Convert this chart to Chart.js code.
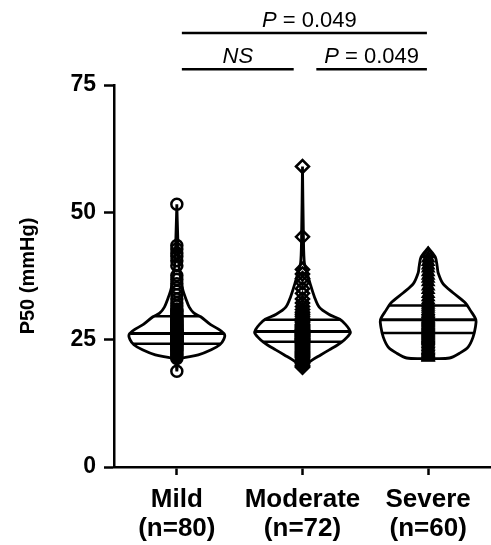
<!DOCTYPE html>
<html>
<head>
<meta charset="utf-8">
<script src="https://cdn.jsdelivr.net/npm/chart.js@4"></script>
<style>
  html, body { margin: 0; padding: 0; background: #fff; }
  #wrap { width: 491px; height: 545px; }
</style>
</head>
<body>
<div id="wrap"><canvas id="myChart" width="491" height="545"></canvas></div>
<script>
const groups = ['Mild', 'Moderate', 'Severe'];
const groupSizes = ['(n=80)', '(n=72)', '(n=60)'];
const yTicks = [0, 25, 50, 75];

// individual P50 values (mmHg)
const mildValues = [
    51.6, 43.5, 42.8, 42.0, 41.4, 40.5, 39.5, 37.6, 36.8, 36.0, 35.2, 34.5, 33.8, 33.0,
    32.2, 31.6, 31.0, 30.8, 30.6, 30.2, 29.9, 29.6, 29.3, 29.0, 28.8, 28.6, 28.4, 28.2, 28.0, 27.9,
    27.8, 27.6, 27.5, 27.3, 27.2, 27.0, 26.9, 26.9, 26.8, 26.7, 26.6, 26.5, 26.4, 26.3, 26.2, 26.1,
    26.0, 25.9, 25.8, 25.7, 25.7, 25.6, 25.5, 25.4, 25.3, 25.2, 25.1, 25.0, 24.9, 24.8, 24.7, 24.6,
    24.6, 24.5, 24.4, 24.3, 24.2, 24.0, 23.8, 23.6, 23.4, 23.2, 23.0, 22.8, 22.5, 22.2, 21.9, 21.6,
    21.3, 18.8
];
const moderateValues = [
    59.0, 45.2, 38.8, 37.9, 37.0, 36.2, 35.0, 34.1, 33.0, 32.2, 31.5, 30.9, 30.4, 30.0, 29.6, 29.2,
    28.9, 28.6, 28.3, 28.0, 27.8, 27.6, 27.4, 27.2, 27.0, 26.9, 26.8, 26.7, 26.6, 26.5, 26.4, 26.3,
    26.2, 26.1, 26.0, 25.9, 25.8, 25.7, 25.6, 25.5, 25.4, 25.3, 25.2, 25.1, 25.0, 24.9, 24.8, 24.7,
    24.6, 24.5, 24.3, 24.1, 23.9, 23.7, 23.5, 23.3, 23.1, 22.9, 22.7, 22.5, 22.3, 22.1, 21.9, 21.7,
    21.5, 21.2, 20.9, 20.6, 20.3, 20.0, 19.8, 19.6
];
const severeValues = [
    41.8, 41.0, 40.3, 39.6, 39.0, 38.3, 37.6, 37.0, 36.3, 35.5, 34.8, 34.0, 33.4, 32.8, 32.3, 31.9,
    31.5, 31.1, 30.7, 30.4, 30.1, 29.8, 29.5, 29.2, 29.0, 28.8, 28.6, 28.4, 28.2, 28.0, 27.8, 27.6,
    27.4, 27.2, 27.0, 26.8, 26.6, 26.4, 26.2, 26.0, 25.8, 25.6, 25.4, 25.2, 25.0, 24.8, 24.5, 24.2,
    23.9, 23.6, 23.3, 23.0, 22.8, 22.6, 22.4, 22.2, 22.0, 21.8, 21.6, 21.5
];

// violin outlines: [P50 value, relative density width]
const mildDensity = [
    [18.8, 0], [21.0, 0.03], [21.4, 0.12], [22.0, 0.45], [23.0, 0.72], [24.0, 0.9], [25.0, 0.98],
    [26.0, 1.0], [27.0, 0.88], [28.0, 0.7], [29.5, 0.5], [30.2, 0.36], [31.4, 0.26], [33.0, 0.19],
    [35.0, 0.12], [37.0, 0.08], [40.0, 0.04], [45.0, 0.02], [51.6, 0]
];
const moderateDensity = [
    [19.5, 0], [20.0, 0.06], [21.0, 0.2], [22.0, 0.38], [23.0, 0.56], [24.0, 0.74], [25.0, 0.88],
    [26.3, 1.0], [27.0, 0.98], [28.0, 0.9], [29.0, 0.78], [30.0, 0.55], [31.4, 0.35], [33.4, 0.25],
    [36.0, 0.16], [38.0, 0.1], [40.0, 0.04], [45.0, 0.02], [59.0, 0]
];
const severeDensity = [
    [21.3, 0], [21.4, 0.45], [22.4, 0.67], [23.6, 0.84], [25.5, 0.94], [27.5, 0.99], [28.9, 1.0],
    [30.8, 0.88], [32.2, 0.78], [34.2, 0.52], [36.0, 0.31], [38.1, 0.21], [39.3, 0.19], [41.2, 0.15],
    [43.0, 0]
];

const q1 = [24.2, 24.6, 26.3];
const medians = [26.2, 26.6, 28.9];
const q3 = [29.6, 28.9, 31.7];

const brackets = [
    { from: 0, to: 2, row: 0, label: [['P', true], [' = 0.049', false]] },
    { from: 0, to: 1, row: 1, label: [['NS', true]] },
    { from: 1, to: 2, row: 1, label: [['P', true], [' = 0.049', false]] }
];

const FONT = "'Liberation Sans', Arial, Helvetica, sans-serif";
Chart.defaults.font.family = FONT;
Chart.defaults.color = '#000';

const allValues = [mildValues, moderateValues, severeValues];
const allDensity = [mildDensity, moderateDensity, severeDensity];
const markers = ['circle', 'rectRot', 'triangle'];
const markerSize = [5.5, 6.5, 6];
const halfWidth = 0.38; // widest half violin, in x units

function widthAt(profile, v) {
    for (let i = 1; i < profile.length; i++) {
        const [v0, w0] = profile[i - 1];
        const [v1, w1] = profile[i];
        if (v >= v0 && v <= v1) {
            return w0 + (w1 - w0) * (v - v0) / (v1 - v0);
        }
    }
    return 0;
}

const datasets = [];

allValues.forEach((vals, g) => {
    datasets.push({
        data: vals.map(v => ({ x: g + 1, y: v })),
        pointStyle: markers[g],
        pointRadius: markerSize[g],
        pointBorderWidth: 2.5,
        pointBorderColor: '#000',
        pointBackgroundColor: 'rgba(0,0,0,0)',
        showLine: false,
        order: 0
    });
});

allDensity.forEach((prof, g) => {
    const c = g + 1;
    const right = prof.map(([v, w]) => ({ x: c + w * halfWidth, y: v }));
    const left = prof.slice().reverse().map(([v, w]) => ({ x: c - w * halfWidth, y: v }));
    datasets.push({
        data: right.concat(left),
        showLine: true,
        borderColor: '#000',
        borderWidth: 2.8,
        pointRadius: 0,
        tension: 0.3,
        fill: false,
        order: 2
    });
    [q1[g], medians[g], q3[g]].forEach((v, k) => {
        const w = widthAt(prof, v) * halfWidth;
        datasets.push({
            data: [{ x: c - w, y: v }, { x: c + w, y: v }],
            showLine: true,
            borderColor: '#000',
            borderWidth: k === 1 ? 3 : 2.5,
            pointRadius: 0,
            order: 1
        });
    });
});

const bracketPlugin = {
    id: 'brackets',
    afterDraw(chart) {
        const { ctx } = chart;
        const xs = chart.scales.x;
        const ys = chart.scales.y;
        const rowValue = [85.2, 78.1];
        ctx.save();
        ctx.strokeStyle = '#000';
        ctx.fillStyle = '#000';
        ctx.lineWidth = 2.5;
        brackets.forEach(b => {
            const py = ys.getPixelForValue(rowValue[b.row]);
            const x1 = xs.getPixelForValue(b.from + 1 + (b.from > 0 ? 0.11 : 0.04));
            const x2 = xs.getPixelForValue(b.to + 1 - (b.to < 2 ? 0.07 : 0.01));
            ctx.beginPath();
            ctx.moveTo(x1, py);
            ctx.lineTo(x2, py);
            ctx.stroke();

            const fontFor = it => (it ? 'italic ' : '') + '22px ' + FONT;
            let total = 0;
            b.label.forEach(([t, it]) => { ctx.font = fontFor(it); total += ctx.measureText(t).width; });
            let tx = (x1 + x2) / 2 - total / 2 + (b.row === 0 ? 5 : 0);
            ctx.textBaseline = 'alphabetic';
            ctx.textAlign = 'left';
            b.label.forEach(([t, it]) => {
                ctx.font = fontFor(it);
                ctx.fillText(t, tx, py - 6);
                tx += ctx.measureText(t).width;
            });
        });
        ctx.restore();
    }
};

const ctx = document.getElementById('myChart').getContext('2d');

const config = {
    type: 'scatter',
    data: { datasets: datasets },
    options: {
        responsive: false,
        animation: false,
        layout: { autoPadding: false, padding: { top: 85, left: 0, right: 0, bottom: 0 } },
        plugins: {
            legend: { display: false },
            tooltip: { enabled: false }
        },
        scales: {
            x: {
                type: 'linear',
                min: 0.5,
                max: 3.5,
                afterBuildTicks: axis => { axis.ticks = groups.map((g, i) => ({ value: i + 1 })); },
                afterFit: scale => {
                    scale.height = 78;
                    scale.paddingLeft = 0;
                    scale.paddingRight = 0;
                },
                ticks: {
                    callback: v => [groups[v - 1], groupSizes[v - 1]],
                    color: '#000',
                    font: { size: 26, weight: 'bold', lineHeight: 1.1 },
                    padding: 11,
                    maxRotation: 0,
                    autoSkip: false
                },
                grid: { drawOnChartArea: false, tickLength: 8, tickWidth: 2.5, tickColor: '#000' },
                border: { color: '#000', width: 2.5 }
            },
            y: {
                min: 0,
                max: 75,
                afterBuildTicks: axis => { axis.ticks = yTicks.map(v => ({ value: v })); },
                afterFit: scale => { scale.width = 114; },
                ticks: {
                    color: '#000',
                    font: { size: 23, weight: 'bold' },
                    padding: 8
                },
                grid: { drawOnChartArea: false, tickLength: 10, tickWidth: 2.5, tickColor: '#000' },
                border: { color: '#000', width: 2.5 },
                title: {
                    display: true,
                    text: 'P50 (mmHg)',
                    color: '#000',
                    font: { size: 20, weight: 'bold' },
                    padding: { top: 16, bottom: 0 }
                }
            }
        }
    },
    plugins: [bracketPlugin]
};

const myChart = new Chart(ctx, config);
</script>
</body>
</html>
